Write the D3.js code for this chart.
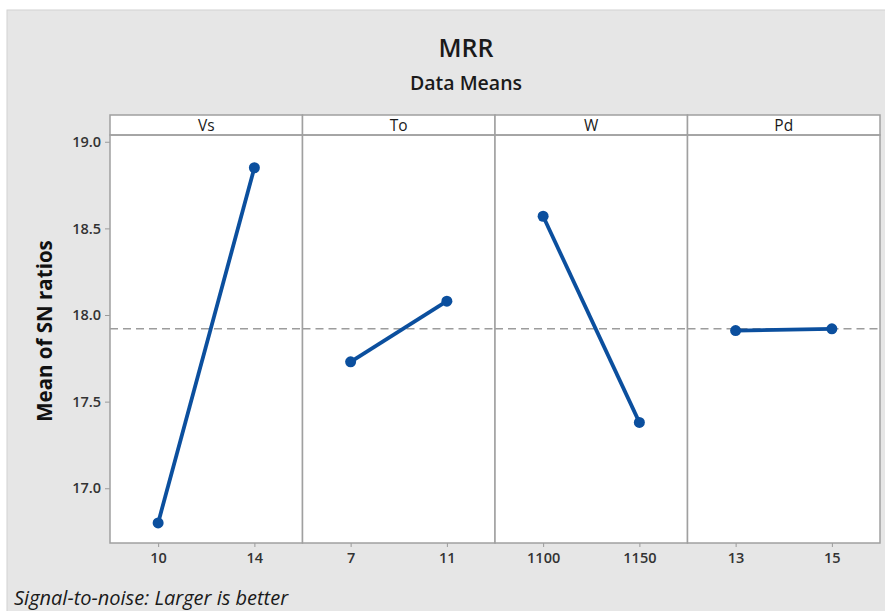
<!DOCTYPE html>
<html>
<head>
<meta charset="utf-8">
<script src="https://cdn.jsdelivr.net/npm/d3@7"></script>
<style>
  html, body { margin: 0; padding: 0; background: #ffffff; }
  svg { display: block; }
  text { font-family: "Open Sans", "Noto Sans", sans-serif; }
</style>
</head>
<body>
<svg id="chart" width="885" height="611"></svg>
<script>
// Main effects plot for SN ratios of MRR
const factors = ["Vs", "To", "W", "Pd"];
const levels = [[10, 14], [7, 11], [1100, 1150], [13, 15]];
const snMeans = [[16.80, 18.85], [17.73, 18.08], [18.57, 17.38], [17.91, 17.92]];
const grandMean = 17.92;
const yTicks = [17.0, 17.5, 18.0, 18.5, 19.0];
const title = "MRR";
const subtitle = "Data Means";
const yLabel = "Mean of SN ratios";
const footnote = "Signal-to-noise: Larger is better";

const svg = d3.select("#chart");
const W = 885, H = 611;

// page background
svg.append("rect").attr("x", 7).attr("y", 10).attr("width", W).attr("height", H)
  .attr("fill", "#e6e6e6").attr("stroke", "#d2d2d2").attr("stroke-width", 1);

const plotLeft = 110, plotRight = 880;
const stripTop = 115, plotTop = 135, plotBottom = 543;
const panelW = (plotRight - plotLeft) / factors.length;

const y = d3.scaleLinear().domain([16.684, 19.039]).range([plotBottom, plotTop]);
const panelX = d3.scaleBand().domain(factors).range([plotLeft, plotRight]).padding(0);

// titles
svg.append("text").attr("x", 466).attr("y", 57).attr("text-anchor", "middle")
  .attr("font-size", 25).attr("font-weight", 600).attr("fill", "#1a1a1a").text(title);
svg.append("text").attr("x", 466).attr("y", 90).attr("text-anchor", "middle")
  .attr("font-size", 19.5).attr("font-weight", 600).attr("fill", "#1a1a1a").text(subtitle);

// y axis label
svg.append("text")
  .attr("transform", `translate(52,331) rotate(-90)`)
  .attr("text-anchor", "middle").attr("font-size", 20.5).attr("font-weight", 700)
  .attr("fill", "#111").text(yLabel);

// y axis
const yAxis = svg.append("g").attr("transform", `translate(${plotLeft},0)`)
  .call(d3.axisLeft(y).tickValues(yTicks).tickFormat(d3.format(".1f")).tickSize(5).tickPadding(4));
yAxis.select(".domain").remove();
yAxis.selectAll(".tick line").attr("stroke", "#9a9a9a");
yAxis.selectAll(".tick text").attr("font-size", 14.5).attr("font-weight", 600)
  .attr("fill", "#333").style("font-family", "'Open Sans', sans-serif");

const lineColor = "#0b4f9e";

factors.forEach((f, i) => {
  const x0 = panelX(f);
  const g = svg.append("g");

  // panel background and strip
  g.append("rect").attr("x", x0).attr("y", plotTop).attr("width", panelW)
    .attr("height", plotBottom - plotTop).attr("fill", "#ffffff");
  g.append("rect").attr("x", x0).attr("y", stripTop).attr("width", panelW)
    .attr("height", plotTop - stripTop).attr("fill", "#ffffff")
    .attr("stroke", "#a0a0a0").attr("stroke-width", 1.5);
  g.append("text").attr("x", x0 + panelW / 2).attr("y", stripTop + 16)
    .attr("text-anchor", "middle").attr("font-size", 15.5).attr("font-weight", 500)
    .attr("fill", "#1a1a1a").text(f);

  const x = d3.scalePoint().domain(levels[i]).range([x0, x0 + panelW]).padding(0.5);

  // x axis
  const xa = g.append("g").attr("transform", `translate(0,${plotBottom})`)
    .call(d3.axisBottom(x).tickSize(4).tickPadding(6));
  xa.select(".domain").remove();
  xa.selectAll(".tick line").attr("stroke", "#9a9a9a");
  xa.selectAll(".tick text").attr("font-size", 14.5).attr("font-weight", 600)
    .attr("fill", "#333").style("font-family", "'Open Sans', sans-serif");

  // reference line at grand mean
  g.append("line").attr("x1", x0).attr("x2", x0 + panelW)
    .attr("y1", y(grandMean)).attr("y2", y(grandMean))
    .attr("stroke", "#9c9c9c").attr("stroke-width", 1.5).attr("stroke-dasharray", "8,5");

  const pts = levels[i].map((lv, j) => ({ lv, v: snMeans[i][j] }));
  g.append("path").datum(pts)
    .attr("d", d3.line().x(d => x(d.lv)).y(d => y(d.v)))
    .attr("fill", "none").attr("stroke", lineColor).attr("stroke-width", 3.8);
  g.selectAll("circle").data(pts).join("circle")
    .attr("cx", d => x(d.lv)).attr("cy", d => y(d.v)).attr("r", 5.5)
    .attr("fill", lineColor);

  // panel frame
  g.append("rect").attr("x", x0).attr("y", plotTop).attr("width", panelW)
    .attr("height", plotBottom - plotTop).attr("fill", "none")
    .attr("stroke", "#a0a0a0").attr("stroke-width", 1.5);
});

// footnote
svg.append("text").attr("x", 14).attr("y", 605).attr("font-size", 20)
  .attr("font-style", "italic").attr("fill", "#1a1a1a").text(footnote);
</script>
</body>
</html>
